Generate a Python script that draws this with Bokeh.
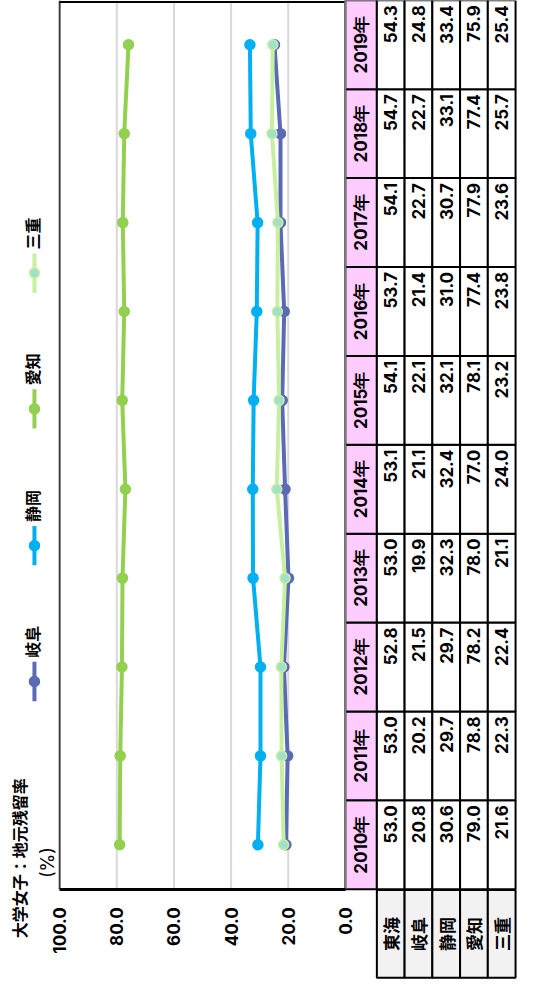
import math
from bokeh.plotting import figure
from bokeh.models import Range1d, LinearAxis, FixedTicker, PrintfTickFormatter, ColumnDataSource
from bokeh.core.properties import value
from bokeh.embed import file_html
from bokeh.resources import INLINE

# ---------------- data ----------------
years = [2010, 2011, 2012, 2013, 2014, 2015, 2016, 2017, 2018, 2019]
year_labels = [f"{y}年" for y in years]
regions = ["東海", "岐阜", "静岡", "愛知", "三重"]
tokai = [53.0, 53.0, 52.8, 53.0, 53.1, 54.1, 53.7, 54.1, 54.7, 54.3]
gifu = [20.8, 20.2, 21.5, 19.9, 21.1, 22.1, 21.4, 22.7, 22.7, 24.8]
shizuoka = [30.6, 29.7, 29.7, 32.3, 32.4, 32.1, 31.0, 30.7, 33.1, 33.4]
aichi = [79.0, 78.8, 78.2, 78.0, 77.0, 78.1, 77.4, 77.9, 77.4, 75.9]
mie = [21.6, 22.3, 22.4, 21.1, 24.0, 23.2, 23.8, 23.6, 25.7, 25.4]
value_ticks = [0, 20, 40, 60, 80, 100]
grid_ticks = [20, 40, 60, 80]
title_text = "大学女子：地元残留率"
unit_text = "(%)"

CJK = "Noto Sans CJK JP"
NUM = "Inter"
W, H = 517, 988
ROT = math.pi / 2

# helpers converting reference layout pixels to data coordinates (layout only)
def vx(rx):
    return (355.5 - rx) / 2.945

def vy(ry):
    return 2019 + (45 - ry) / 90.33

COLW = (531.0 - 388.0) / 5

def tx(rx):
    return 1 + (rx - (388.0 + COLW / 2)) / COLW

p = figure(width=W, height=H,
           x_range=Range1d(vx(0), vx(533)),
           y_range=Range1d(vy(1004), vy(0)),
           x_axis_type=None, y_axis_type=None,
           output_backend="svg", toolbar_location=None,
           min_border=0, outline_line_color=None,
           background_fill_color="white", border_fill_color="white")
p.extra_x_ranges = {"tbl": Range1d(tx(0), tx(533))}

y_top = vy(0)
y_bot = years[0] - 0.5

# gridlines
p.segment(x0=grid_ticks, y0=[y_bot] * len(grid_ticks), x1=grid_ticks, y1=[y_top] * len(grid_ticks),
          line_color="#d9d9d9", line_width=2)

# plot frame (left + top)
p.segment(x0=[value_ticks[-1]], y0=[y_bot], x1=[value_ticks[-1]], y1=[y_top], line_color="#404040", line_width=2)
p.segment(x0=[value_ticks[-1]], y0=[vy(1.5)], x1=[value_ticks[0]], y1=[vy(1.5)], line_color="black", line_width=2)

# value axis
ax = LinearAxis(ticker=FixedTicker(ticks=value_ticks),
                formatter=PrintfTickFormatter(format="%.1f"),
                fixed_location=y_bot, bounds=(0, 100),
                major_tick_out=0, major_tick_in=0, minor_tick_out=0, minor_tick_in=0,
                axis_line_width=3, axis_line_color="black",
                major_label_orientation=ROT, major_label_standoff=18,
                major_label_text_font=NUM, major_label_text_font_size="17px",
                major_label_text_font_style="bold", major_label_text_color="black")
p.add_layout(ax, "below")

# series
series = [
    ("岐阜", gifu, "#5b6ab4", "#5b6ab4"),
    ("静岡", shizuoka, "#00b0f0", "#00b0f0"),
    ("愛知", aichi, "#92d050", "#92d050"),
    ("三重", mie, "#c6efa0", "#a3e0c8"),
]
legend_y = [692, 554, 415, 277]
for (name, vals, col, fill), ly in zip(series, legend_y):
    p.line(x=vals, y=years, line_color=col, line_width=4)
    p.scatter(x=vals, y=years, size=10, fill_color=fill, line_color=col, line_width=1.5)
    # legend entry
    p.segment(x0=[vx(35)], y0=[vy(ly + 20)], x1=[vx(35)], y1=[vy(ly - 20)], line_color=col, line_width=4)
    p.scatter(x=[vx(35)], y=[vy(ly)], size=10, fill_color=fill, line_color=col, line_width=1.5)
    p.text(x=[vx(32)], y=[vy(ly - 24)], text=[name], angle=ROT, text_align="left",
           text_baseline="middle", text_font=value(CJK), text_font_size="16px",
           text_font_style="bold", text_color="black")

# title & unit
p.text(x=[vx(19)], y=[vy(953)], text=[title_text], angle=ROT, text_align="left",
       text_baseline="middle", text_font=value(CJK), text_font_size="16px",
       text_font_style="bold", text_color="black")
p.text(x=[vx(48)], y=[vy(876)], text=[unit_text], angle=ROT, text_align="center",
       text_baseline="middle", text_font=value(NUM), text_font_size="18px",
       text_color="black")

# ---------------- data table ----------------
hdr_x = (tx(355.5) + tx(388)) / 2
hdr_w = tx(388) - tx(355.5)
p.rect(x=[hdr_x] * len(years), y=years, width=hdr_w, height=1, x_range_name="tbl",
       fill_color="#ffccff", line_color="black", line_width=2)

all_rows = [tokai, gifu, shizuoka, aichi, mie]
cx, cy, ct = [], [], []
for r, vals in enumerate(all_rows, start=1):
    for yv, v in zip(years, vals):
        cx.append(r)
        cy.append(yv)
        ct.append(f"{v:.1f}")
cells = ColumnDataSource(dict(x=cx, y=cy, ty=[c + 0.5 - 5 / 90.33 for c in cy], t=ct))
p.rect(x="x", y="y", width=1, height=1, source=cells, x_range_name="tbl",
       fill_color="white", line_color="black", line_width=2)

lab_y = vy(948.5)
lab_h = (993 - 904) / 90.33
rows_x = list(range(1, len(regions) + 1))
p.rect(x=rows_x, y=[lab_y] * len(regions), width=1, height=lab_h, x_range_name="tbl",
       fill_color="#f2f2f2", line_color="black", line_width=2)

# table left border (gray)
p.segment(x0=[tx(355.5)], y0=[y_bot], x1=[tx(355.5)], y1=[y_top], x_range_name="tbl",
          line_color="#7f7f7f", line_width=2)

# table texts
p.text(x=[hdr_x] * len(years), y=years, text=year_labels, x_range_name="tbl", angle=ROT,
       text_align="center", text_baseline="middle", text_font=value(NUM),
       text_font_size="17px", text_font_style="bold", text_color="black")
p.text(x="x", y="ty", text="t", source=cells, x_range_name="tbl", angle=ROT,
       text_align="right", text_baseline="middle", text_font=value(NUM),
       text_font_size="17px", text_font_style="bold", text_color="black")
p.text(x=rows_x, y=[lab_y] * len(regions), text=regions, x_range_name="tbl", angle=ROT,
       text_align="center", text_baseline="middle", text_font=value(CJK),
       text_font_size="17px", text_font_style="bold", text_color="black")

open("out.html", "w").write(file_html(p, INLINE))
